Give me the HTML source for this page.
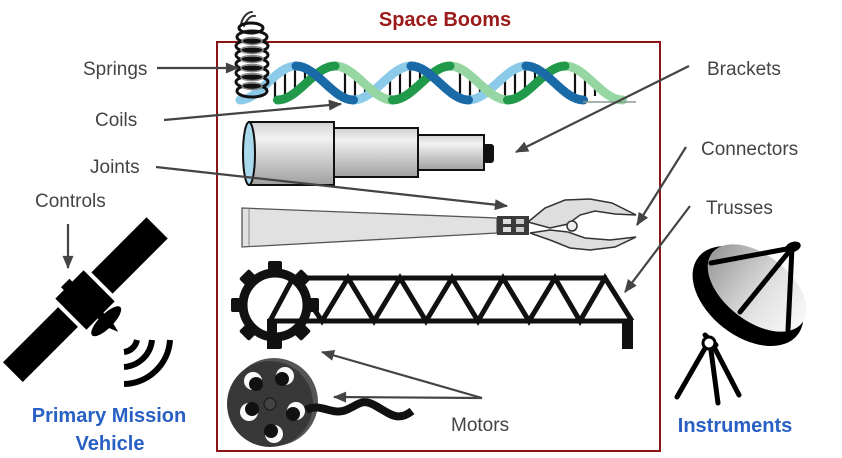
<!DOCTYPE html>
<html><head><meta charset="utf-8"><style>
html,body{margin:0;padding:0;background:#fff;}
svg{display:block;}
text{font-family:"Liberation Sans",Arial,sans-serif;}
</style></head><body>
<svg width="842" height="458" viewBox="0 0 842 458" xmlns="http://www.w3.org/2000/svg">
<defs>
<marker id="ah" viewBox="0 0 12 10" refX="11" refY="5" markerWidth="14" markerHeight="11" markerUnits="userSpaceOnUse" orient="auto">
<path d="M0,0 L12,5 L0,10 z" fill="#444"/>
</marker>
<linearGradient id="tg" x1="0" y1="0" x2="0" y2="1">
<stop offset="0" stop-color="#d0d0d0"/><stop offset="0.25" stop-color="#f2f2f2"/><stop offset="1" stop-color="#a0a0a0"/>
</linearGradient>
<linearGradient id="dg" x1="0" y1="0" x2="1" y2="0">
<stop offset="0" stop-color="#9a9a9a"/><stop offset="0.6" stop-color="#e2e2e2"/><stop offset="1" stop-color="#f8f8f8"/>
</linearGradient>
</defs>

<!-- Title -->
<text x="445" y="26" font-size="20" font-weight="bold" fill="#9b1a1a" text-anchor="middle">Space Booms</text>
<!-- Box -->
<rect x="217" y="42" width="443" height="409" fill="none" stroke="#8b1414" stroke-width="2"/>

<!-- DNA rungs -->
<g stroke="#111" stroke-width="2.2">
<line x1="275" y1="76" x2="275" y2="98"/><line x1="285" y1="69" x2="285" y2="97"/><line x1="295" y1="66" x2="295" y2="92"/><line x1="305" y1="68" x2="305" y2="84"/>
<line x1="345" y1="69" x2="345" y2="97"/><line x1="355" y1="74" x2="355" y2="98"/><line x1="365" y1="84" x2="365" y2="96"/>
<line x1="390" y1="76" x2="390" y2="98"/><line x1="400" y1="69" x2="400" y2="97"/><line x1="410" y1="66" x2="410" y2="92"/><line x1="420" y1="68" x2="420" y2="84"/>
<line x1="460" y1="69" x2="460" y2="97"/><line x1="470" y1="74" x2="470" y2="98"/><line x1="480" y1="84" x2="480" y2="96"/>
<line x1="505" y1="76" x2="505" y2="98"/><line x1="515" y1="69" x2="515" y2="97"/><line x1="525" y1="66" x2="525" y2="92"/><line x1="535" y1="68" x2="535" y2="84"/>
<line x1="575" y1="69" x2="575" y2="97"/><line x1="585" y1="74" x2="585" y2="98"/><line x1="595" y1="84" x2="595" y2="96"/>
</g>
<!-- DNA strands -->
<g fill="none" stroke-width="9" stroke-linecap="round">
<g stroke="#8ccaea">
<path d="M240,100 C259.2,100 275.3,66 296,66"/><path d="M353.5,100 C374.2,100 390.3,66 411,66"/><path d="M468.5,100 C489.2,100 505.3,66 526,66"/>
</g>
<g stroke="#95d6a2">
<path d="M335,66 C355.7,66 371.8,100 392.5,100"/><path d="M450,66 C470.7,66 486.8,100 507.5,100"/><path d="M565,66 C585.7,66 601.8,100 622.5,100"/>
</g>
<g stroke="#21994a">
<path d="M277.5,100 C298.2,100 314.3,66 335,66"/><path d="M392.5,100 C413.2,100 429.3,66 450,66"/><path d="M507.5,100 C528.2,100 544.3,66 565,66"/>
</g>
<g stroke="#1b6aa8">
<path d="M296,66 C316.7,66 332.8,100 353.5,100"/><path d="M411,66 C431.7,66 447.8,100 468.5,100"/><path d="M526,66 C546.7,66 562.8,100 583.5,100"/>
</g>
</g>
<line x1="583" y1="102" x2="636" y2="102" stroke="#8a9a90" stroke-width="1.5"/>

<!-- Spring -->
<g fill="none" stroke-linecap="round">
<path d="M241,24 C243,16 248,12 252,12 M244,26 C247,19 251,15 255,16" stroke="#333" stroke-width="2"/>
<g stroke="#111" stroke-width="3">
<ellipse cx="251" cy="28" rx="12" ry="5"/><ellipse cx="252" cy="37" rx="15" ry="6"/><ellipse cx="252" cy="46" rx="16" ry="6"/>
<ellipse cx="252" cy="55" rx="16" ry="6"/><ellipse cx="252" cy="64" rx="16" ry="6"/><ellipse cx="252" cy="73" rx="16" ry="6"/>
<ellipse cx="252" cy="82" rx="16" ry="6"/><ellipse cx="252" cy="91" rx="15" ry="6"/>
</g>
<g stroke="#888" stroke-width="1.5">
<ellipse cx="252" cy="41" rx="10" ry="3.5"/><ellipse cx="252" cy="50" rx="11" ry="3.5"/><ellipse cx="252" cy="59" rx="11" ry="3.5"/>
<ellipse cx="252" cy="68" rx="11" ry="3.5"/><ellipse cx="252" cy="77" rx="11" ry="3.5"/><ellipse cx="252" cy="86" rx="10" ry="3.5"/>
</g>
</g>

<!-- Telescope -->
<g stroke="#111" stroke-width="2">
<rect x="418" y="135" width="66" height="35" fill="url(#tg)"/>
<rect x="334" y="128" width="84" height="49" fill="url(#tg)"/>
<rect x="249" y="122" width="85" height="63" fill="url(#tg)"/>
<ellipse cx="249" cy="153.5" rx="6" ry="31.5" fill="#a9d9ec"/>
<rect x="484" y="145" width="9" height="17" rx="2" fill="#111"/>
</g>

<!-- Gripper -->
<polygon points="242,208 497,218 497,233 242,247" fill="#e1e1e1" stroke="#555" stroke-width="1.3"/>
<line x1="249" y1="208.5" x2="249" y2="246.5" stroke="#888" stroke-width="1"/>
<rect x="497" y="216" width="32" height="19" fill="#3a3a3a"/>
<rect x="503" y="219" width="8" height="5" fill="#ddd"/><rect x="503" y="227" width="8" height="5" fill="#ddd"/>
<rect x="516" y="219" width="8" height="5" fill="#ccc"/><rect x="516" y="227" width="8" height="5" fill="#ccc"/>
<polygon points="528,222 545,208 565,200 590,199 612,203 636,215 615,214 595,211 580,215 568,224 550,228" fill="#dedede" stroke="#333" stroke-width="1.5"/>
<polygon points="530,233 550,230 568,232 585,238 610,240 636,237 615,247 590,250 570,248 550,240" fill="#dedede" stroke="#333" stroke-width="1.5"/>
<circle cx="572" cy="226" r="5" fill="#eee" stroke="#333" stroke-width="1.5"/>

<!-- Gear -->
<g transform="translate(275,305)" fill="#111">
<rect x="-7" y="-44" width="14" height="12" rx="2"/>
<rect x="-7" y="-44" width="14" height="12" rx="2" transform="rotate(45)"/>
<rect x="-7" y="-44" width="14" height="12" rx="2" transform="rotate(90)"/>
<rect x="-7" y="-44" width="14" height="12" rx="2" transform="rotate(135)"/>
<rect x="-7" y="-44" width="14" height="12" rx="2" transform="rotate(180)"/>
<rect x="-7" y="-44" width="14" height="12" rx="2" transform="rotate(225)"/>
<rect x="-7" y="-44" width="14" height="12" rx="2" transform="rotate(270)"/>
<rect x="-7" y="-44" width="14" height="12" rx="2" transform="rotate(315)"/>
<circle r="32" fill="none" stroke="#111" stroke-width="9"/>
</g>
<!-- Truss -->
<g stroke="#111" stroke-width="5" fill="none" stroke-linejoin="miter">
<line x1="288" y1="278" x2="607" y2="278"/>
<line x1="268" y1="321" x2="633" y2="321"/>
<polyline points="270,321 293,278 322,321 348,278 374,321 400,278 426,321 452,278 478,321 503,278 529,321 555,278 580,321 605,278 632,321"/>
</g>
<rect x="267" y="319" width="10" height="30" fill="#111"/>
<rect x="622" y="319" width="11" height="30" fill="#111"/>

<!-- Film reel -->
<circle cx="274" cy="402" r="44" fill="#555"/>
<circle cx="270" cy="404" r="43" fill="#383838"/>
<g fill="#fafafa">
<circle cx="253" cy="381" r="9"/><circle cx="285" cy="376" r="9"/><circle cx="249" cy="412" r="9"/><circle cx="296" cy="411" r="9"/><circle cx="274" cy="434" r="9"/>
</g>
<g fill="#111">
<circle cx="256" cy="384" r="7"/><circle cx="282" cy="379" r="7"/><circle cx="252" cy="409" r="7"/><circle cx="293" cy="414" r="7"/><circle cx="271" cy="431" r="7"/>
</g>
<circle cx="270" cy="404" r="6" fill="#444" stroke="#222" stroke-width="1.5"/>
<path d="M306,410 C320,402 332,416 346,410 S362,398 376,406 S398,422 412,411" fill="none" stroke="#111" stroke-width="8"/>

<!-- Satellite -->
<g transform="translate(85,300) rotate(-45)" fill="#000">
<rect x="-20" y="-22" width="40" height="44"/>
<rect x="-8" y="-26" width="12" height="5"/>
<rect x="24" y="-15" width="78" height="30"/>
<rect x="-102" y="-14" width="78" height="28"/>
<rect x="-4" y="20" width="8" height="8"/>
<ellipse cx="0" cy="30" rx="20" ry="7"/>
<polygon points="-4,34 4,34 1,46"/>
</g>
<g fill="none" stroke="#000" stroke-width="6">
<path d="M124,352 A15,15 0 0 0 137,340"/>
<path d="M124,367 A30,30 0 0 0 152,340"/>
<path d="M124,384 A47,47 0 0 0 170,340"/>
</g>

<!-- Instruments dish -->
<g stroke="#000" stroke-width="5" stroke-linecap="round" fill="none">
<line x1="708" y1="343" x2="677" y2="397"/>
<line x1="710" y1="343" x2="718" y2="403"/>
<line x1="712" y1="343" x2="739" y2="395"/>
<line x1="705" y1="335" x2="716" y2="345"/>
</g>
<circle cx="709" cy="343" r="6" fill="#fff" stroke="#000" stroke-width="3"/>
<ellipse cx="748" cy="296" rx="63" ry="40" transform="rotate(38 748 296)" fill="#000"/>
<ellipse cx="757" cy="288" rx="57" ry="33" transform="rotate(38 757 288)" fill="url(#dg)"/>
<g stroke="#000" stroke-width="5" stroke-linecap="round">
<line x1="711" y1="263" x2="792" y2="248"/>
<line x1="740" y1="312" x2="792" y2="248"/>
<line x1="792" y1="248" x2="788" y2="330"/>
</g>
<ellipse cx="793" cy="247" rx="8" ry="5" transform="rotate(-20 793 247)" fill="#000"/>

<!-- Arrows -->
<g stroke="#444" stroke-width="2.2" fill="none" marker-end="url(#ah)">
<line x1="157" y1="68" x2="238" y2="68"/>
<line x1="164" y1="120" x2="341" y2="104"/>
<line x1="156" y1="167" x2="507" y2="206"/>
<line x1="68" y1="224" x2="68" y2="268"/>
<line x1="689" y1="66" x2="516" y2="152"/>
<line x1="686" y1="147" x2="637" y2="225"/>
<line x1="690" y1="206" x2="625" y2="292"/>
<line x1="482" y1="398" x2="322" y2="352"/>
<line x1="482" y1="398" x2="334" y2="397"/>
</g>

<!-- Labels -->
<g font-size="19" fill="#444">
<text x="83" y="75">Springs</text>
<text x="95" y="126">Coils</text>
<text x="90" y="173">Joints</text>
<text x="35" y="207">Controls</text>
<text x="707" y="75">Brackets</text>
<text x="701" y="155">Connectors</text>
<text x="706" y="214">Trusses</text>
<text x="451" y="431">Motors</text>
</g>
<g font-size="20" font-weight="bold" fill="#2860c4" text-anchor="middle">
<text x="109" y="422">Primary Mission</text>
<text x="110" y="450">Vehicle</text>
<text x="735" y="432">Instruments</text>
</g>
</svg>
</body></html>
